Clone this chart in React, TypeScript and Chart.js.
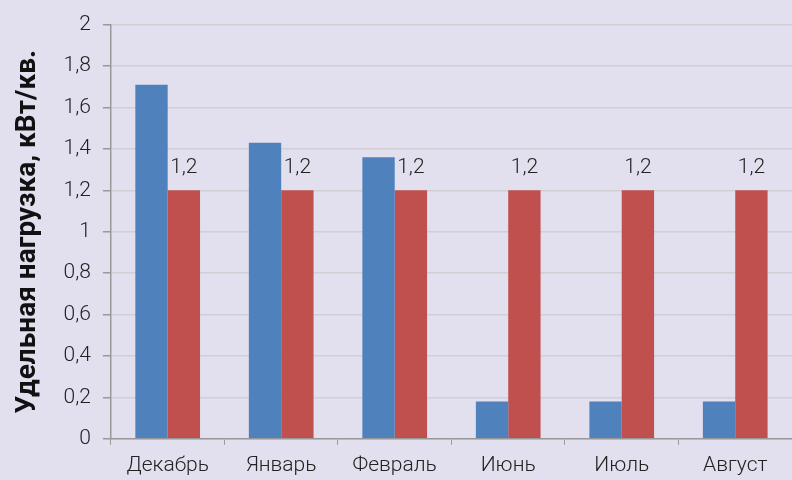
import React, { useEffect, useRef } from "react";
import { Chart, registerables } from "chart.js";

Chart.register(...registerables);

const categories = ["Декабрь", "Январь", "Февраль", "Июнь", "Июль", "Август"];
const actualLoad = [1.71, 1.43, 1.36, 0.18, 0.18, 0.18];
const normLoad = [1.2, 1.2, 1.2, 1.2, 1.2, 1.2];
const yTitle = "Удельная нагрузка, кВт/кв.";

const fmt = (v: number) => String(Math.round(v * 10) / 10).replace(".", ",");
const tickFont = "Roboto";

const labelPlugin = {
  id: "barLabels",
  afterDatasetsDraw(chart: any) {
    const ctx = chart.ctx;
    const meta = chart.getDatasetMeta(1);
    ctx.save();
    ctx.font = `300 21px ${tickFont}`;
    ctx.fillStyle = "#222222";
    ctx.textAlign = "center";
    ctx.textBaseline = "middle";
    meta.data.forEach((bar: any, i: number) => {
      ctx.fillText(fmt(normLoad[i]), bar.x, bar.y - 23);
    });
    ctx.restore();
  },
};

export default function App() {
  const ref = useRef<HTMLCanvasElement>(null);
  useEffect(() => {
    document.body.style.margin = "0";
    const chart = new Chart(ref.current!, {
      type: "bar",
      data: {
        labels: categories,
        datasets: [
          { data: actualLoad, backgroundColor: "#4f81bd", barPercentage: 1, categoryPercentage: 0.57 },
          { data: normLoad, backgroundColor: "#c0504d", barPercentage: 1, categoryPercentage: 0.57 },
        ],
      },
      options: {
        animation: false,
        responsive: false,
        maintainAspectRatio: false,
        layout: { padding: { top: 24, right: 0, left: 7, bottom: -6 } },
        plugins: { legend: { display: false }, tooltip: { enabled: false } },
        scales: {
          x: {
            grid: { drawOnChartArea: false, drawTicks: true, tickLength: 6, tickColor: "#999999", offset: true },
            border: { color: "#999999", width: 1.5 },
            ticks: { color: "#222222", font: { family: tickFont, size: 21, weight: "300" }, padding: 8 },
          },
          y: {
            min: 0,
            max: 2,
            ticks: { stepSize: 0.2, color: "#222222", font: { family: tickFont, size: 21, weight: "300" }, padding: 12, callback: (v: any) => fmt(Number(v)) },
            grid: { color: "#d0d0d4", lineWidth: 1.5, tickLength: 8, tickColor: "#999999" },
            border: { color: "#999999", width: 1.5 },
            title: { display: true, text: yTitle, color: "#111111", font: { family: "Roboto", size: 28, weight: "bold" }, padding: { bottom: 7 } },
          },
        },
      },
      plugins: [labelPlugin],
    });
    return () => chart.destroy();
  }, []);
  return (
    <div style={{ width: 792, height: 480, background: "#e2dfef" }}>
      <canvas ref={ref} width={792} height={480} />
    </div>
  );
}
